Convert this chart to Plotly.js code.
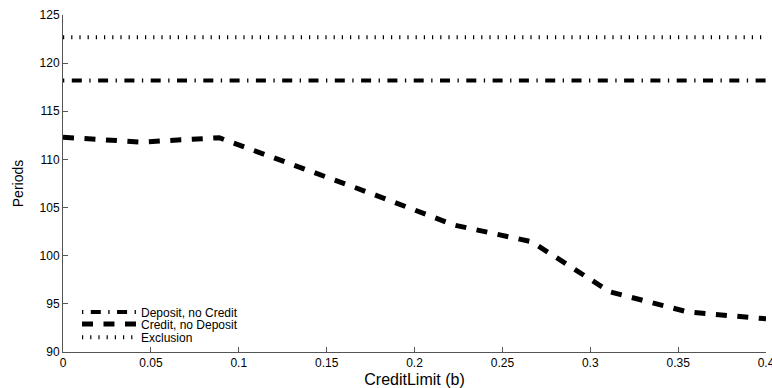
<!DOCTYPE html>
<html>
<head>
<meta charset="utf-8">
<script src="https://cdn.plot.ly/plotly-3.0.1.min.js"></script>
<style>html,body{margin:0;padding:0;background:#fff;}#chart{width:772px;height:388px;}</style>
</head>
<body>
<div id="chart"></div>
<script>
// Data
const creditLimit = [0, 0.0444, 0.0889, 0.1333, 0.1778, 0.2222, 0.2667, 0.3111, 0.3556, 0.4];
const depositNoCredit = [118.2, 118.2, 118.2, 118.2, 118.2, 118.2, 118.2, 118.2, 118.2, 118.2];
const creditNoDeposit = [112.3, 111.8, 112.25, 109.3, 106.3, 103.2, 101.45, 96.25, 94.15, 93.45];
const exclusion = [122.7, 122.7, 122.7, 122.7, 122.7, 122.7, 122.7, 122.7, 122.7, 122.7];
const xTicks = [0, 0.05, 0.1, 0.15, 0.2, 0.25, 0.3, 0.35, 0.4];
const xTickText = ['0', '0.05', '0.1', '0.15', '0.2', '0.25', '0.3', '0.35', '0.4'];
const yTicks = [90, 95, 100, 105, 110, 115, 120, 125];

const FONT = 'Liberation Sans, Arial, Helvetica, sans-serif';

const traces = [
  {x: creditLimit, y: depositNoCredit, name: 'Deposit, no Credit', mode: 'lines', legend: 'legend',
   line: {color: '#000', width: 4, dash: '1.3px,7.5px,10px,7.5px'}},
  {x: creditLimit, y: creditNoDeposit, name: 'Credit, no Deposit', mode: 'lines', legend: 'legend2',
   line: {color: '#000', width: 5, dash: '11px,10.5px'}},
  {x: creditLimit, y: exclusion, name: 'Exclusion', mode: 'lines', legend: 'legend3',
   line: {color: '#000', width: 4, dash: '1.2px,7px'}}
];

function legendAt(yv) {
  return {
    x: 0.0199, y: yv, xanchor: 'left', yanchor: 'middle',
    bgcolor: 'rgba(255,255,255,0)', borderwidth: 0, itemwidth: 54,
    font: {family: FONT, size: 12, color: '#000'}
  };
}

const layout = {
  width: 772, height: 388,
  margin: {l: 63, r: 6, t: 15, b: 36, pad: 0},
  paper_bgcolor: '#fff', plot_bgcolor: '#fff',
  font: {family: FONT, size: 12, color: '#000'},
  showlegend: true,
  legend: legendAt(0.1187),
  legend2: legendAt(0.0831),
  legend3: legendAt(0.0436),
  xaxis: {
    range: [0, 0.4], tickvals: xTicks, ticktext: xTickText,
    ticks: 'inside', ticklen: 5, tickwidth: 1, tickcolor: '#555',
    ticklabeloverflow: 'allow',
    showline: true, linecolor: '#555', linewidth: 1,
    showgrid: false, zeroline: false, mirror: false,
    tickfont: {family: FONT, size: 12, color: '#000'},
    title: {text: 'CreditLimit (b)', font: {family: FONT, size: 16, color: '#000'}, standoff: 4}
  },
  yaxis: {
    range: [90, 125], tickvals: yTicks,
    ticks: 'inside', ticklen: 5, tickwidth: 1, tickcolor: '#555',
    showline: true, linecolor: '#555', linewidth: 1,
    showgrid: false, zeroline: false, mirror: false,
    tickfont: {family: FONT, size: 12, color: '#000'},
    title: {text: 'Periods', font: {family: FONT, size: 14, color: '#000'}, standoff: 12}
  }
};

Plotly.newPlot('chart', traces, layout, {displayModeBar: false, staticPlot: true});
</script>
</body>
</html>
